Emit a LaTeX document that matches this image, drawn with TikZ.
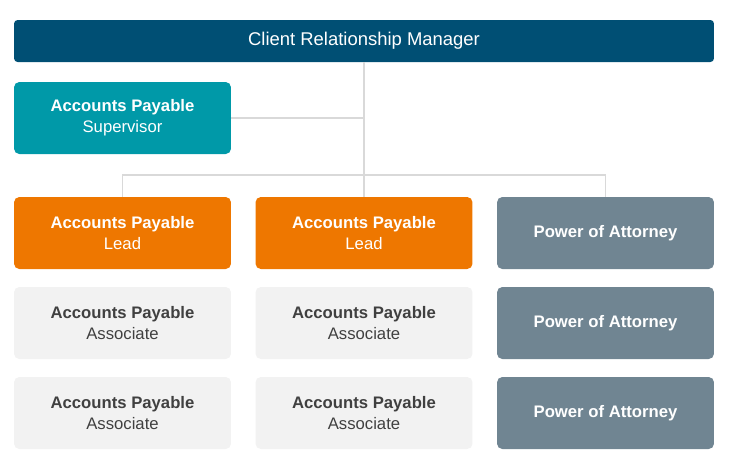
\documentclass[tikz,border=0pt]{standalone}
\usepackage{fontspec}
\setmainfont{Liberation Sans}
\usetikzlibrary{positioning}
\definecolor{mgrblue}{HTML}{004F74}
\definecolor{supteal}{HTML}{0099A8}
\definecolor{leadorange}{HTML}{EE7700}
\definecolor{assocgrey}{HTML}{F2F2F2}
\definecolor{poaslate}{HTML}{708592}
\definecolor{assoctext}{HTML}{404040}
\definecolor{linkgrey}{HTML}{D9D9D9}
\begin{document}
\begin{tikzpicture}[x=0.02cm, y=-0.02cm,
    every node/.style={font=\fontsize{9.5}{12}\selectfont, align=center, inner sep=0pt},
    box/.style={rectangle, rounded corners=3pt, minimum width=4.34cm, minimum height=1.44cm},
    mgr/.style={rectangle, rounded corners=2pt, fill=mgrblue, text=white, minimum width=14cm, minimum height=0.84cm, font=\fontsize{10.5}{12}\selectfont},
    sup/.style={box, fill=supteal, text=white},
    lead/.style={box, fill=leadorange, text=white},
    assoc/.style={box, fill=assocgrey, text=assoctext},
    poa/.style={box, fill=poaslate, text=white, font=\fontsize{9.5}{12}\selectfont\bfseries},
    link/.style={draw=linkgrey, line width=0.6pt}
]
    \useasboundingbox (0,0) rectangle (732,467);
    % Top
    \node[mgr] (crm) at (364,41) {Client Relationship Manager};
    \node[sup] (sup) at (122.5,118) {\textbf{Accounts Payable}\\Supervisor};

    % Columns
    \node[lead] (lead1) at (122.5,233) {\textbf{Accounts Payable}\\Lead};
    \node[lead] (lead2) at (364,233) {\textbf{Accounts Payable}\\Lead};
    \node[poa] (poa1) at (605.5,233) {Power of Attorney};
    \node[assoc] (assoc1) at (122.5,323) {\textbf{Accounts Payable}\\Associate};
    \node[assoc] (assoc2) at (364,323) {\textbf{Accounts Payable}\\Associate};
    \node[poa] (poa2) at (605.5,323) {Power of Attorney};
    \node[assoc] (assoc3) at (122.5,413) {\textbf{Accounts Payable}\\Associate};
    \node[assoc] (assoc4) at (364,413) {\textbf{Accounts Payable}\\Associate};
    \node[poa] (poa3) at (605.5,413) {Power of Attorney};

    % Links
    \coordinate (split) at (364,175);
    \draw[link] (crm.south) -- (split);
    \draw[link] (sup.east) -- (sup.east -| crm.south);
    \draw[link] (lead1.north) -- (lead1.north |- split) -- (poa1.north |- split) -- (poa1.north);
    \draw[link] (split) -- (lead2.north);
\end{tikzpicture}
\end{document}
